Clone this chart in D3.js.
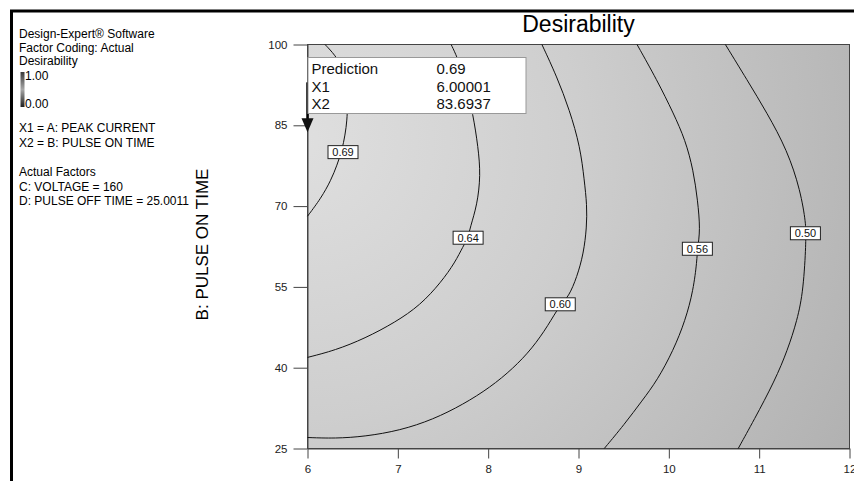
<!DOCTYPE html>
<html>
<head>
<meta charset="utf-8">
<script src="https://cdn.jsdelivr.net/npm/d3@7"></script>
<style>
  body { margin: 0; background: #fff; }
  #chart { width: 854px; height: 481px; }
  text { font-family: Arial, "Liberation Sans", sans-serif; }
</style>
</head>
<body>
<div id="chart"></div>
<script>
// axis ticks
const xTicks = [6, 7, 8, 9, 10, 11, 12];
const yTicks = [25, 40, 55, 70, 85, 100];

// contour lines, [X1 (peak current), X2 (pulse on time)]
const contour069 = [[6.194,100],[6.305,98.05],[6.382,95.82],[6.427,92.47],[6.443,88.75],[6.438,85.97],[6.416,83.18],[6.382,80.39],[6.327,77.60],[6.260,74.81],[6.150,71.47],[6.0,68.12]];
const contour064 = [[7.590,100],[7.657,97.68],[7.745,93.40],[7.834,86.90],[7.889,80.95],[7.917,75.74],[7.878,70.17],[7.801,66.08],[7.778,64.13],[7.723,62.55],[7.634,59.57],[7.479,55.86],[7.247,51.58],[6.970,48.42],[6.637,45.45],[6.305,43.22],[6.0,41.91]];
const contour060 = [[8.595,100],[8.761,94.01],[8.901,87.83],[9.019,81.00],[9.064,74.81],[9.094,70.17],[9.091,66.08],[9.056,61.19],[8.983,56.84],[8.890,53.12],[8.798,51.77],[8.665,47.86],[8.488,43.59],[8.277,39.87],[8.022,36.34],[7.723,33.18],[7.391,30.39],[7.025,28.35],[6.637,27.23],[6.305,26.86],[6.0,27.04]];
const contour056 = [[9.648,100],[9.869,93.40],[10.050,87.27],[10.183,82.25],[10.271,76.67],[10.319,71.10],[10.349,65.52],[10.316,62.08],[10.312,59.94],[10.271,54.37],[10.183,48.79],[10.050,43.22],[9.871,37.64],[9.706,33.92],[9.507,29.46],[9.285,25]];
const contour050 = [[10.626,100],[10.867,93.40],[11.088,87.27],[11.310,80.39],[11.457,72.96],[11.520,66.45],[11.512,64.96],[11.520,63.66],[11.490,54.37],[11.421,48.79],[11.313,43.22],[11.175,37.64],[10.940,30.20],[10.768,25]];

const contourLevels = ["0.69", "0.64", "0.60", "0.56", "0.50"];
const contourLines = [contour069, contour064, contour060, contour056, contour050];
// where each level's label box sits
const labelPoints = [[6.393, 80.02], [7.778, 64.13], [8.798, 51.77], [10.316, 62.08], [11.512, 64.96]];

// flag / prediction readout
const predictionRows = [["Prediction", "0.69"], ["X1", "6.00001"], ["X2", "83.6937"]];
const predX1 = 6.00001;
const predX2 = 83.6937;

const infoLines = ["Design-Expert\u00AE Software", "Factor Coding: Actual", "Desirability"];
const factorLines = ["X1 = A: PEAK CURRENT", "X2 = B: PULSE ON TIME"];
const actualLines = ["Actual Factors", "C: VOLTAGE = 160", "D: PULSE OFF TIME = 25.0011"];

class ContourPlot {

    constructor(parentElement) {
        this.parentElement = parentElement;
        this.width = 854;
        this.height = 481;
        this.plot = {left: 307.5, right: 849.5, top: 44.5, bottom: 448.5};
        this.initVis();
    }

    initVis() {
        let vis = this;

        vis.svg = d3.select("#" + vis.parentElement).append("svg")
            .attr("width", vis.width)
            .attr("height", vis.height);

        let defs = vis.svg.append("defs");

        // surface shading, lighter near the optimum
        let rg = defs.append("radialGradient")
            .attr("id", "surface")
            .attr("gradientUnits", "userSpaceOnUse")
            .attr("cx", 300).attr("cy", 140).attr("r", 620);
        rg.append("stop").attr("offset", "0").attr("stop-color", "#dfdfdf");
        rg.append("stop").attr("offset", "0.45").attr("stop-color", "#cecece");
        rg.append("stop").attr("offset", "1").attr("stop-color", "#b2b2b2");

        let lg = defs.append("linearGradient")
            .attr("id", "legendbar")
            .attr("x1", 0).attr("y1", 0).attr("x2", 0).attr("y2", 1);
        lg.append("stop").attr("offset", "0").attr("stop-color", "#3a3a3a");
        lg.append("stop").attr("offset", "0.5").attr("stop-color", "#a8a8a8");
        lg.append("stop").attr("offset", "1").attr("stop-color", "#1e1e1e");

        vis.xScale = d3.scaleLinear()
            .domain([6, 12])
            .range([vis.plot.left, vis.plot.right]);

        vis.yScale = d3.scaleLinear()
            .domain([25, 100])
            .range([vis.plot.bottom, vis.plot.top]);

        // thick frame on top and left
        vis.svg.append("path")
            .attr("d", "M11.5,481 V11 H854")
            .attr("fill", "none")
            .attr("stroke", "#000")
            .attr("stroke-width", 3);

        // plot background
        vis.svg.append("rect")
            .attr("x", vis.plot.left)
            .attr("y", vis.plot.top)
            .attr("width", vis.plot.right - vis.plot.left)
            .attr("height", vis.plot.bottom - vis.plot.top)
            .attr("fill", "url(#surface)")
            .attr("stroke", "#444")
            .attr("stroke-width", 1);

        vis.svg.append("text")
            .attr("x", (vis.plot.left + vis.plot.right) / 2)
            .attr("y", 32)
            .attr("text-anchor", "middle")
            .attr("font-size", "23px")
            .attr("fill", "#000")
            .text("Desirability");

        // axes
        vis.svg.append("g")
            .attr("transform", `translate(0,${vis.plot.bottom})`)
            .call(d3.axisBottom(vis.xScale).tickValues(xTicks).tickFormat(d3.format("d"))
                .tickSize(10).tickSizeOuter(0).tickPadding(6))
            .call(g => g.select(".domain").attr("stroke", "#444"))
            .call(g => g.selectAll(".tick line").attr("stroke", "#444"))
            .call(g => g.selectAll(".tick text").attr("font-size", "11.5px").attr("fill", "#222")
                .attr("font-family", "Arial, 'Liberation Sans', sans-serif"));

        vis.svg.append("g")
            .attr("transform", `translate(${vis.plot.left},0)`)
            .call(d3.axisLeft(vis.yScale).tickValues(yTicks).tickSize(14).tickSizeOuter(0).tickPadding(6))
            .call(g => g.select(".domain").attr("stroke", "#444"))
            .call(g => g.selectAll(".tick line").attr("stroke", "#444"))
            .call(g => g.selectAll(".tick text").attr("font-size", "11.5px").attr("fill", "#222")
                .attr("font-family", "Arial, 'Liberation Sans', sans-serif"));

        vis.svg.append("text")
            .attr("transform", `translate(208,${(vis.plot.top + vis.plot.bottom) / 2 - 2}) rotate(-90)`)
            .attr("text-anchor", "middle")
            .attr("font-size", "17px")
            .attr("fill", "#000")
            .text("B: PULSE ON TIME");

        // left side notes
        let notes = vis.svg.append("g").attr("font-size", "12px").attr("fill", "#000");
        infoLines.forEach((t, i) => {
            notes.append("text").attr("x", 19).attr("y", 38 + i * 13.5).text(t);
        });
        notes.append("rect")
            .attr("x", 20.5).attr("y", 72)
            .attr("width", 4).attr("height", 35)
            .attr("fill", "url(#legendbar)");
        notes.append("text").attr("x", 25).attr("y", 80).text("1.00");
        notes.append("text").attr("x", 25).attr("y", 108).text("0.00");
        factorLines.forEach((t, i) => {
            notes.append("text").attr("x", 19).attr("y", 132 + i * 15).text(t);
        });
        actualLines.forEach((t, i) => {
            notes.append("text").attr("x", 19).attr("y", 176 + i * 14.5).text(t);
        });

        vis.updateVis();
    }

    updateVis() {
        let vis = this;

        let line = d3.line()
            .x(d => vis.xScale(d[0]))
            .y(d => vis.yScale(d[1]))
            .curve(d3.curveBasis);

        vis.svg.append("g")
            .attr("class", "contours")
            .attr("fill", "none")
            .attr("stroke", "#111")
            .attr("stroke-width", 1)
            .selectAll("path")
            .data(contourLines)
            .join("path")
            .attr("d", line);

        let labels = vis.svg.append("g")
            .selectAll("g")
            .data(contourLevels)
            .join("g")
            .attr("transform", (d, i) => `translate(${vis.xScale(labelPoints[i][0])},${vis.yScale(labelPoints[i][1])})`);
        labels.append("rect")
            .attr("x", -15).attr("y", -6.5)
            .attr("width", 30).attr("height", 13)
            .attr("fill", "#fff")
            .attr("stroke", "#222")
            .attr("stroke-width", 1);
        labels.append("text")
            .attr("text-anchor", "middle")
            .attr("dy", "0.36em")
            .attr("font-size", "11px")
            .attr("fill", "#111")
            .text(d => d);

        // prediction flag
        let px = vis.xScale(predX1);
        let py = vis.yScale(predX2);
        vis.svg.append("line")
            .attr("x1", px).attr("x2", px)
            .attr("y1", py - 50).attr("y2", py - 12)
            .attr("stroke", "#000")
            .attr("stroke-width", 2.5);
        vis.svg.append("path")
            .attr("d", `M${px - 6},${py - 14} L${px + 6},${py - 14} L${px},${py} Z`)
            .attr("fill", "#111");

        let box = vis.svg.append("g");
        box.append("rect")
            .attr("x", px + 0.5).attr("y", 57.5)
            .attr("width", 218).attr("height", 56)
            .attr("fill", "#fff")
            .attr("stroke", "#999");
        predictionRows.forEach((r, i) => {
            box.append("text").attr("x", px + 4).attr("y", 74 + i * 17.5)
                .attr("font-size", "15px").attr("fill", "#111").text(r[0]);
            box.append("text").attr("x", px + 129).attr("y", 74 + i * 17.5)
                .attr("font-size", "15px").attr("fill", "#111").text(r[1]);
        });
    }
}

new ContourPlot("chart");
</script>
</body>
</html>
